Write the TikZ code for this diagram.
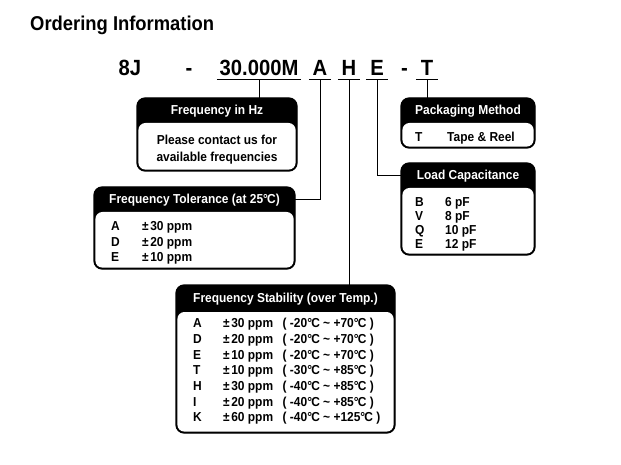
\documentclass[tikz,border=0pt]{standalone}
\usepackage{fontspec}
\setmainfont{Liberation Sans}[FakeStretch=0.92]
\usetikzlibrary{calc}
\newcommand\degc{°\kern-0.8pt C}
\newcommand\infobox[6]{%
  \node[boxnode, minimum width=#4pt, minimum height=#5pt] (#1) at (#2,#3) {};
  \fill[white, rounded corners=7pt] ([xshift=1.4pt,yshift=1.4pt]#1.south west) rectangle ([xshift=-1.4pt,yshift=-#6pt]#1.north east);
}
\begin{document}
\begin{tikzpicture}[x=1pt,y=-1pt,
  code/.style={font=\fontsize{22}{22}\selectfont\bfseries, anchor=base, inner xsep=2.5pt, inner ysep=3.3pt},
  letter/.style={code, minimum width=22pt},
  boxnode/.style={draw=black, line width=1.2pt, fill=black, rounded corners=8pt, anchor=north west, inner sep=0pt, outer sep=0pt},
  hdr/.style={font=\fontsize{13}{13}\selectfont\bfseries, text=white, anchor=base, inner sep=0pt},
  body/.style={font=\fontsize{13}{13}\selectfont\bfseries, anchor=base, inner sep=0pt},
  row/.style={font=\fontsize{13}{13}\selectfont\bfseries, anchor=base west, inner sep=0pt},
  conn/.style={line width=0.9pt},
  uline/.style={line width=1.4pt}
]
\useasboundingbox[fill=white] (0,0) rectangle (621,465);

\node[anchor=base west, inner sep=0pt, font=\fontsize{20}{20}\selectfont\bfseries] (title) at (30,31) {Ordering Information};

% part code
\node[code] (c8j) at (130,76) {8J};
\node[code] (d1) at (189,76) {-};
\node[code] (f) at (259,76) {30.000M};
\node[letter] (a) at (320,76) {A};
\node[letter] (h) at (349,76) {H};
\node[letter] (e) at (377,76) {E};
\node[code] (d2) at (404.5,76) {-};
\node[letter] (t) at (427,76) {T};
\foreach \n in {f,a,h,e,t} \draw[uline] (\n.south west) -- (\n.south east);

% boxes
\infobox{fhz}{137}{98}{160}{73}{25}
\infobox{pack}{401}{98}{134}{50}{25}
\infobox{load}{401}{163}{134}{92}{25}
\infobox{tol}{94}{187}{201}{82}{25}
\infobox{stab}{176}{285}{219}{148}{27}

% headers
\node[hdr] (fhzh) at (217,114.5) {Frequency in Hz};
\node[hdr] (packh) at (468,115) {Packaging Method};
\node[hdr] (loadh) at (468,180) {Load Capacitance};
\node[hdr] (tolh) at (194.5,203.5) {Frequency Tolerance (at 25\degc)};
\node[hdr] (stabh) at (285.5,302.5) {Frequency Stability (over Temp.)};

% frequency body
\node[body] (fb1) at (217,144.5) {Please contact us for};
\node[body] (fb2) at (217,161.5) {available frequencies};

% packaging
\node[row] (p1l) at (415,141.5) {T};
\node[row] (p1v) at (447,141.5) {Tape \& Reel};

% load capacitance
\node[row] (l1l) at (415,206.5) {B};
\node[row] (l1v) at (445,206.5) {6 pF};
\node[row] (l2l) at (415,220.5) {V};
\node[row] (l2v) at (445,220.5) {8 pF};
\node[row] (l3l) at (415,234.5) {Q};
\node[row] (l3v) at (445,234.5) {10 pF};
\node[row] (l4l) at (415,248.5) {E};
\node[row] (l4v) at (445,248.5) {12 pF};

% tolerance
\node[row] (t1l) at (111,230.5) {A};
\node[row] (t1v) at (142,230.5) {±\kern1.5pt30 ppm};
\node[row] (t2l) at (111,246) {D};
\node[row] (t2v) at (142,246) {±\kern1.5pt20 ppm};
\node[row] (t3l) at (111,261.5) {E};
\node[row] (t3v) at (142,261.5) {±\kern1.5pt10 ppm};

% stability
\foreach \l/\v/\r/\y [count=\i] in {
  A/30/-20\degc{} \textasciitilde{} +70\degc/327.5,
  D/20/-20\degc{} \textasciitilde{} +70\degc/343.3,
  E/10/-20\degc{} \textasciitilde{} +70\degc/359,
  T/10/-30\degc{} \textasciitilde{} +85\degc/374.7,
  H/30/-40\degc{} \textasciitilde{} +85\degc/390.5,
  I/20/-40\degc{} \textasciitilde{} +85\degc/406,
  K/60/-40\degc{} \textasciitilde{} +125\degc/421.5}{
  \node[row] (s\i l) at (193,\y) {\l};
  \node[row] (s\i v) at (223,\y) {±\kern1.5pt\v\ ppm};
  \node[row] (s\i r) at (282.5,\y) {( \r{} )};
}

% connectors
\draw[conn] (f.south) -- (f.south |- fhz.north);
\draw[conn] (a.south) |- ([yshift=-12.5pt]tol.north east);
\draw[conn] (h.south) -- (h.south |- stab.north);
\draw[conn] (e.south) |- ([yshift=-12.5pt]load.north west);
\draw[conn] (t.south) -- (t.south |- pack.north);
\end{tikzpicture}
\end{document}
